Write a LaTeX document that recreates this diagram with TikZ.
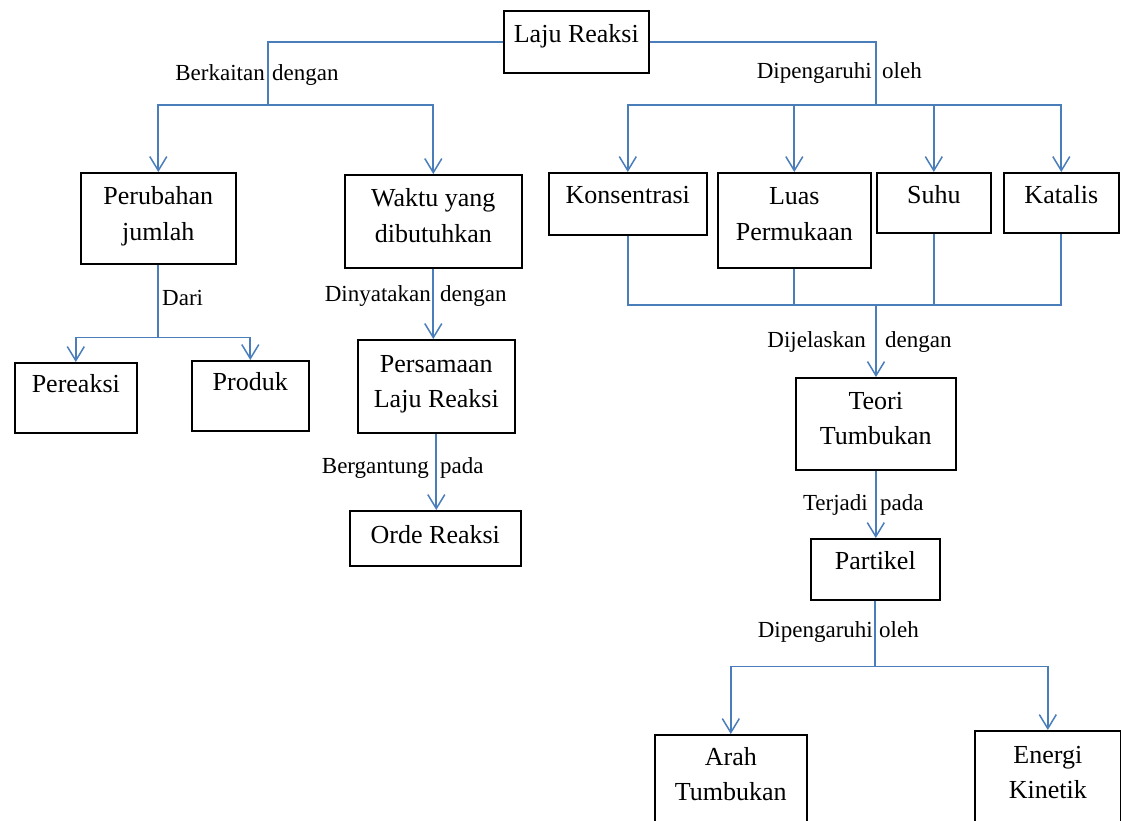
\documentclass[tikz,border=0pt]{standalone}
\usepackage{fontspec}
\setmainfont{Liberation Serif}
\usetikzlibrary{arrows.meta,calc}
\definecolor{conblue}{RGB}{74,126,187}
\begin{document}
\begin{tikzpicture}[x=1pt,y=-1pt,
  box/.style={draw=black, line width=1.6pt, anchor=north west, inner sep=0pt},
  btxt/.style={font=\fontsize{26}{30}\selectfont, inner sep=0pt, anchor=base},
  lbl/.style={font=\fontsize{23}{26}\selectfont, inner sep=0pt},
  conn/.style={draw=conblue, line width=1.7pt},
  arr/.style={conn, -{Straight Barb[length=14pt,width=17pt,line width=1.5pt]}}]
\useasboundingbox (0,0) rectangle (1121,820);
\clip (0,0) rectangle (1121,820);
\fill[white] (0,0) rectangle (1121,820);

% boxes
\node[box, minimum width=145pt, minimum height=62pt] (lr) at (503,10) {};
\node[box, minimum width=155pt, minimum height=91pt] (pj) at (80,172) {};
\node[box, minimum width=177pt, minimum height=93pt] (wk) at (344,174) {};
\node[box, minimum width=158pt, minimum height=62pt] (ks) at (548,172) {};
\node[box, minimum width=153pt, minimum height=95pt] (lp) at (717,172) {};
\node[box, minimum width=114pt, minimum height=60pt] (sh) at (876,172) {};
\node[box, minimum width=115pt, minimum height=60pt] (kt) at (1003,172) {};
\node[box, minimum width=122pt, minimum height=70pt] (pr) at (14,362) {};
\node[box, minimum width=117pt, minimum height=70pt] (pd) at (191,360) {};
\node[box, minimum width=157pt, minimum height=93pt] (ps) at (357,339) {};
\node[box, minimum width=171pt, minimum height=55pt] (od) at (349,510) {};
\node[box, minimum width=160pt, minimum height=92pt] (tt) at (795,377) {};
\node[box, minimum width=129pt, minimum height=61pt] (pk) at (810,538) {};
\node[box, minimum width=152pt, minimum height=110pt] (ar) at (654,734) {};
\node[box, minimum width=146pt, minimum height=110pt] (en) at (974,730) {};

% box texts
\node[btxt] (tlr) at ([yshift=-32pt]lr.north) {Laju Reaksi};
\node[btxt] (tpj1) at ([yshift=-32pt]pj.north) {Perubahan};
\node[btxt] (tpj2) at ([yshift=-68pt]pj.north) {jumlah};
\node[btxt] (twk1) at ([yshift=-32pt]wk.north) {Waktu yang};
\node[btxt] (twk2) at ([yshift=-68pt]wk.north) {dibutuhkan};
\node[btxt] (tks) at ([yshift=-31pt]ks.north) {Konsentrasi};
\node[btxt] (tlp1) at ([yshift=-32pt]lp.north) {Luas};
\node[btxt] (tlp2) at ([yshift=-68pt]lp.north) {Permukaan};
\node[btxt] (tsh) at ([yshift=-31pt]sh.north) {Suhu};
\node[btxt] (tkt) at ([yshift=-31pt]kt.north) {Katalis};
\node[btxt] (tpr) at ([yshift=-30pt]pr.north) {Pereaksi};
\node[btxt] (tpd) at ([yshift=-30pt]pd.north) {Produk};
\node[btxt] (tps1) at ([yshift=-33pt]ps.north) {Persamaan};
\node[btxt] (tps2) at ([yshift=-68pt]ps.north) {Laju Reaksi};
\node[btxt] (tod) at ([yshift=-33pt]od.north) {Orde Reaksi};
\node[btxt] (ttt1) at ([yshift=-32pt]tt.north) {Teori};
\node[btxt] (ttt2) at ([yshift=-67pt]tt.north) {Tumbukan};
\node[btxt] (tpk) at ([yshift=-31pt]pk.north) {Partikel};
\node[btxt] (tar1) at ([yshift=-31pt]ar.north) {Arah};
\node[btxt] (tar2) at ([yshift=-66pt]ar.north) {Tumbukan};
\node[btxt] (ten1) at ([yshift=-33pt]en.north) {Energi};
\node[btxt] (ten2) at ([yshift=-68pt]en.north) {Kinetik};

% junctions
\coordinate (jl) at (268,105);
\coordinate (jr) at (876,105);
\coordinate (jd) at ($(pj.south)+(0,73)$);
\coordinate (jm) at (876,305);
\coordinate (jb) at ($(pk.south)+(0,66)$);

% connectors
\draw[conn] (lr.west) -| (jl);
\draw[arr] (jl) -| (pj.north);
\draw[arr] (jl) -| (wk.north);
\draw[conn] (lr.east) -| (jr);
\draw[arr] (jr) -| (ks.north);
\draw[arr] (jr) -| (lp.north);
\draw[arr] (jr) -| (sh.north);
\draw[arr] (jr) -| (kt.north);
\draw[conn] (pj.south) -- (jd);
\draw[arr] (jd) -| (pr.north);
\draw[arr] (jd) -| (pd.north);
\draw[arr] (wk.south) -- (wk.south |- ps.north);
\draw[arr] (ps.south) -- (ps.south |- od.north);
\draw[conn] (ks.south) |- (jm);
\draw[conn] (kt.south) |- (jm);
\draw[conn] (lp.south) -- (lp.south |- jm);
\draw[conn] (sh.south) -- (sh.south |- jm);
\draw[arr] (jm) -- (jm |- tt.north);
\draw[arr] (tt.south) -- (tt.south |- pk.north);
\draw[conn] (pk.south) -- (jb);
\draw[arr] (jb) -| (ar.north);
\draw[arr] (jb) -| (en.north);

% labels
\node[lbl, anchor=base east] (l1a) at (265,80) {Berkaitan};
\node[lbl, anchor=base west] (l1b) at (272,80) {dengan};
\node[lbl, anchor=base east] (l2a) at (872,78) {Dipengaruhi};
\node[lbl, anchor=base west] (l2b) at (882,78) {oleh};
\node[lbl, anchor=base west] (l3) at (162,305) {Dari};
\node[lbl, anchor=base east] (l4a) at (431,301) {Dinyatakan};
\node[lbl, anchor=base west] (l4b) at (440,301) {dengan};
\node[lbl, anchor=base east] (l5a) at (429,473) {Bergantung};
\node[lbl, anchor=base west] (l5b) at (440,473) {pada};
\node[lbl, anchor=base east] (l6a) at (866,347) {Dijelaskan};
\node[lbl, anchor=base west] (l6b) at (885,347) {dengan};
\node[lbl, anchor=base east] (l7a) at (868,510) {Terjadi};
\node[lbl, anchor=base west] (l7b) at (880,510) {pada};
\node[lbl, anchor=base east] (l8a) at (873,637) {Dipengaruhi};
\node[lbl, anchor=base west] (l8b) at (879,637) {oleh};
\end{tikzpicture}
\end{document}
